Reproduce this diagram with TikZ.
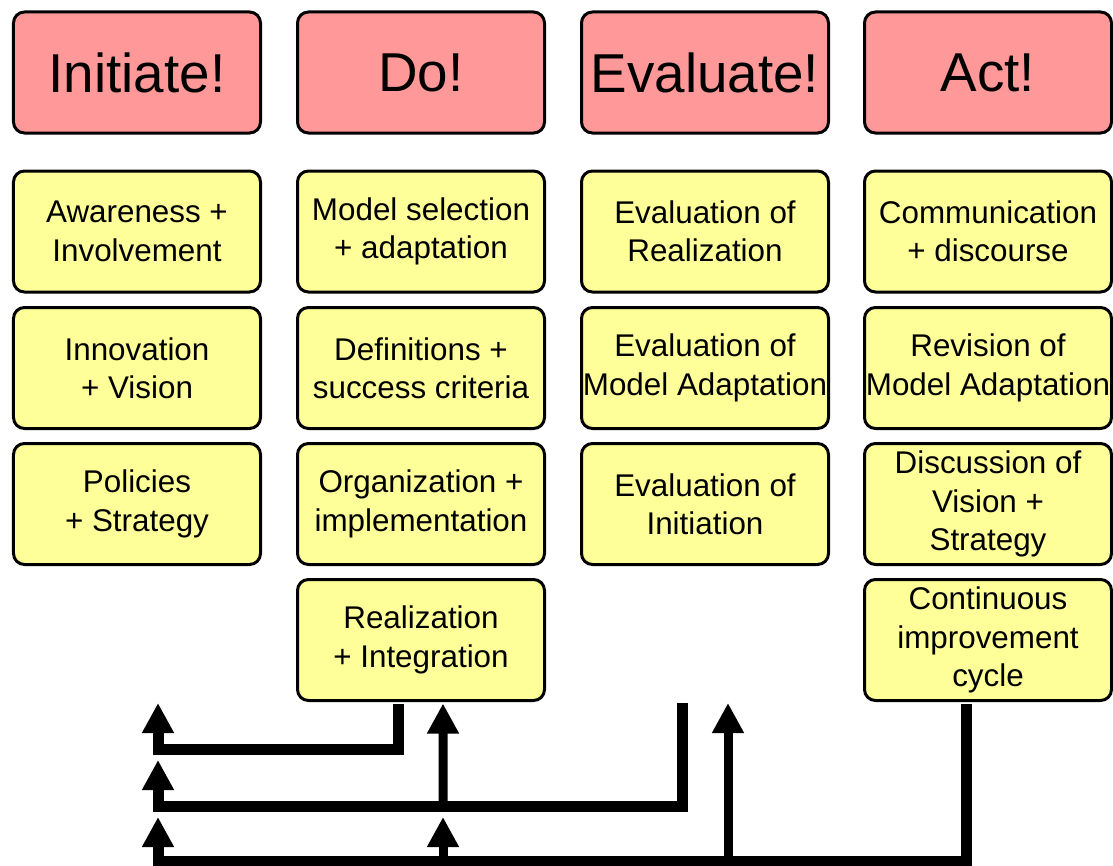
\documentclass[tikz,border=0pt]{standalone}
\usepackage{fontspec}
\setmainfont{Liberation Sans}
\usetikzlibrary{arrows.meta}
\definecolor{hdrpink}{RGB}{255,153,153}
\definecolor{boxyellow}{RGB}{255,255,153}
\tikzset{
  base/.style={draw=black, line width=3bp, rounded corners=11bp, minimum width=247bp, minimum height=121bp, inner sep=0pt, align=center},
  hdr/.style={base, fill=hdrpink, font=\fontsize{55}{60}\selectfont},
  item/.style={base, fill=boxyellow, font=\fontsize{31.5}{38.5}\selectfont},
  bar/.style={line width=11bp, line join=miter, -{Triangle[width=30bp,length=30bp]}},
  shaft/.style={line width=9bp, -{Triangle[width=30bp,length=30bp]}}
}
\begin{document}
\begin{tikzpicture}[x=1bp,y=-1bp]
\useasboundingbox (0,0) rectangle (1113,866);
% headers
\node[hdr] (h1) at (137,72.5) {Initiate!};
\node[hdr] (h2) at (421,72.5) {Do!};
\node[hdr] (h3) at (705,72.5) {Evaluate!};
\node[hdr] (h4) at (988,72.5) {Act!};
% column 1
\node[item] (a1) at (137,231.5) {Awareness +\\Involvement};
\node[item] (a2) at (137,368) {Innovation\\+ Vision};
\node[item] (a3) at (137,504) {Policies\\+ Strategy};
% column 2
\node[item] (b1) at (421,231.5) {Model selection\\+ adaptation};
\node[item] (b2) at (421,368) {Definitions +\\success criteria};
\node[item] (b3) at (421,504) {Organization +\\implementation};
\node[item] (real) at (421,640) {Realization\\+ Integration};
% column 3
\node[item] (c1) at (705,231.5) {Evaluation of\\Realization};
\node[item] (c2) at (705,368) {Evaluation of\\Model Adaptation};
\node[item] (c3) at (705,504) {Evaluation of\\Initiation};
% column 4
\node[item] (d1) at (988,231.5) {Communication\\+ discourse};
\node[item] (d2) at (988,368) {Revision of\\Model Adaptation};
\node[item] (d3) at (988,504) {Discussion of\\Vision +\\Strategy};
\node[item] (cyc) at (988,640) {Continuous\\improvement\\cycle};
% connector coordinates
\coordinate (e0) at (682,703);
\coordinate (k1) at (158,749);
\coordinate (k2) at (158,806);
\coordinate (k3) at (158,861);
\coordinate (t1) at (158,703);
\coordinate (t2) at (158,760);
\coordinate (t3) at (158,817);
\coordinate (j2) at (443,806);
\coordinate (j3a) at (443,861);
\coordinate (t5) at (443,817);
\coordinate (j3b) at (728,861);
\coordinate (t6) at (728,703);
% connectors
\draw[bar] ([xshift=-23bp,yshift=-1.5bp]real.south) |- (k1) -- (t1);
\draw[bar] (e0) |- (k2) -- (t2);
\draw[shaft] (j2) -- ([xshift=22bp,yshift=-1.5bp]real.south);
\draw[bar] ([xshift=-22bp,yshift=-1.5bp]cyc.south) |- (k3) -- (t3);
\draw[shaft] (j3a) -- (t5);
\draw[shaft] (j3b) -- (t6);
\end{tikzpicture}
\end{document}
